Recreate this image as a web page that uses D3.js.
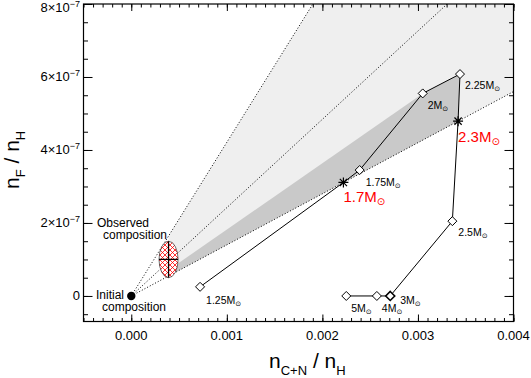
<!DOCTYPE html>
<html>
<head>
<meta charset="utf-8">
<script src="https://cdn.jsdelivr.net/npm/d3@7"></script>
<style>
  body { margin: 0; background: #fff; }
  text { font-family: "Liberation Sans", Arial, Helvetica, sans-serif; fill: #000; }
</style>
</head>
<body>
<svg id="chart" width="531" height="378"></svg>
<script>
// model track, in order of increasing mass
const masses = ['1.25', '1.7', '1.75', '2', '2.25', '2.3', '2.5', '3', '4', '5'];
const trackCN = [0.00072, 0.00222, 0.00239, 0.00305, 0.00344, 0.00342, 0.00336, 0.00271, 0.00257, 0.00225];
const trackF = [0.25e-7, 3.11e-7, 3.45e-7, 5.55e-7, 6.08e-7, 4.79e-7, 2.05e-7, 0, 0, 0];
const crossing = [false, true, false, false, false, true, false, false, false, false];

// observed and initial composition
const observed = { cn: 0.00039, f: 1.0e-7, errCN: 0.0001, errF: 0.5e-7 };
const initial = { cn: 0, f: 0 };

// F/(C+N) ratios of the three dotted lines
const ratioUpper = 4.21e-4;
const ratioMiddle = 2.42e-4;
const ratioLower = 1.40e-4;

const xTicks = [0, 0.001, 0.002, 0.003, 0.004];
const xTickLabels = ['0.000', '0.001', '0.002', '0.003', '0.004'];
const yTicks = [0, 2e-7, 4e-7, 6e-7, 8e-7];
const yTickMantissa = ['0', '2', '4', '6', '8'];

// label placement (pixel offsets from each point)
const labelLayout = [
  { dx: 6, dy: 17 }, { dx: 0, dy: 20 }, { dx: 6, dy: 16 }, { dx: 5, dy: 16 }, { dx: 5, dy: 15 },
  { dx: 0, dy: 21 }, { dx: 6, dy: 15 }, { dx: 10, dy: 8 }, { dx: 5, dy: 16 }, { dx: 5, dy: 16 },
];

const svg = d3.select('#chart');

const area = { left: 83.5, right: 513.5, top: 4, bottom: 321.5 };

const xScale = d3.scaleLinear().domain([-0.0005, 0.004]).range([area.left, area.right]);
const yScale = d3.scaleLinear().domain([-0.7e-7, 8e-7]).range([area.bottom, area.top]);

const [xMin, xMax] = xScale.domain();
const [yMin, yMax] = yScale.domain();

svg.append('defs').call((defs) => {
  defs.append('clipPath')
    .attr('id', 'plot-clip')
    .append('rect')
    .attr('x', area.left)
    .attr('y', area.top)
    .attr('width', area.right - area.left)
    .attr('height', area.bottom - area.top);

  const pat = defs.append('pattern')
    .attr('id', 'hatch')
    .attr('patternUnits', 'userSpaceOnUse')
    .attr('width', 5)
    .attr('height', 5);
  pat.append('rect').attr('width', 5).attr('height', 5).attr('fill', '#fff');
  pat.append('path')
    .attr('d', 'M0,0L5,5M5,0L0,5M-1,4L1,6M4,-1L6,1M-1,1L1,-1M4,6L6,4')
    .attr('stroke', '#f00')
    .attr('stroke-width', 0.8);
});

const plot = svg.append('g').attr('clip-path', 'url(#plot-clip)');

const pt = (cn, f) => [xScale(cn), yScale(f)];

// shaded ranges between the dotted lines, starting at the observed point
const x0 = observed.cn;
const lightPoly = [
  pt(x0, ratioUpper * x0),
  pt(yMax / ratioUpper, yMax),
  pt(xMax, yMax),
  pt(xMax, ratioLower * xMax),
  pt(x0, ratioLower * x0),
];

const i2 = masses.indexOf('2');
const i225 = masses.indexOf('2.25');
const i23 = masses.indexOf('2.3');
const ratioDark = trackF[i2] / trackCN[i2];
const darkPoly = [
  pt(x0, ratioDark * x0),
  pt(trackCN[i2], trackF[i2]),
  pt(trackCN[i225], trackF[i225]),
  pt(trackCN[i23], trackF[i23]),
  pt(x0, ratioLower * x0),
];

plot.append('polygon')
  .attr('points', lightPoly.join(' '))
  .attr('fill', '#efefef');

plot.append('polygon')
  .attr('points', darkPoly.join(' '))
  .attr('fill', '#c9c9c9');

// dotted lines from the initial composition
for (const r of [ratioUpper, ratioMiddle, ratioLower]) {
  const xe = Math.min(xMax, yMax / r);
  plot.append('line')
    .attr('x1', xScale(0))
    .attr('y1', yScale(0))
    .attr('x2', xScale(xe))
    .attr('y2', yScale(r * xe))
    .attr('stroke', '#000')
    .attr('stroke-width', 1)
    .attr('stroke-dasharray', '1,2');
}

// axes (ticks point inward)
const xMinor = d3.range(-5, 41).map((i) => i * 1e-4);
const yMinor = d3.range(-1, 17).map((i) => i * 0.5e-7);

function addAxis(axis, transform) {
  const g = svg.append('g').attr('transform', transform).call(axis);
  g.select('.domain').remove();
  g.selectAll('.tick line').attr('stroke', '#000').attr('stroke-width', 1);
  return g;
}

addAxis(d3.axisBottom(xScale).tickValues(xMinor).tickSize(-3.5).tickFormat(''), `translate(0,${area.bottom})`);
addAxis(d3.axisTop(xScale).tickValues(xMinor).tickSize(-3.5).tickFormat(''), `translate(0,${area.top})`);
addAxis(d3.axisBottom(xScale).tickValues(xTicks).tickSize(-7).tickFormat(''), `translate(0,${area.bottom})`);
addAxis(d3.axisTop(xScale).tickValues(xTicks).tickSize(-7).tickFormat(''), `translate(0,${area.top})`);

addAxis(d3.axisLeft(yScale).tickValues(yMinor).tickSize(-4.5).tickFormat(''), `translate(${area.left},0)`);
addAxis(d3.axisRight(yScale).tickValues(yMinor).tickSize(-4.5).tickFormat(''), `translate(${area.right},0)`);
addAxis(d3.axisLeft(yScale).tickValues(yTicks).tickSize(-9).tickFormat(''), `translate(${area.left},0)`);
addAxis(d3.axisRight(yScale).tickValues(yTicks).tickSize(-9).tickFormat(''), `translate(${area.right},0)`);

svg.append('rect')
  .attr('x', area.left)
  .attr('y', area.top)
  .attr('width', area.right - area.left)
  .attr('height', area.bottom - area.top)
  .attr('fill', 'none')
  .attr('stroke', '#000')
  .attr('stroke-width', 1.2);

// tick labels
svg.append('g')
  .selectAll('text')
  .data(xTicks)
  .join('text')
  .attr('x', (d) => xScale(d))
  .attr('y', 340)
  .attr('text-anchor', 'middle')
  .attr('font-size', 13)
  .text((d, i) => xTickLabels[i]);

const yLabels = svg.append('g')
  .selectAll('text')
  .data(yTicks)
  .join('text')
  .attr('x', 80)
  .attr('y', (d) => Math.max(yScale(d) + 4.5, 12))
  .attr('text-anchor', 'end')
  .attr('font-size', 13);

yLabels.each(function (d, i) {
  const t = d3.select(this);
  if (d === 0) {
    t.text(yTickMantissa[i]);
    return;
  }
  t.append('tspan').text(yTickMantissa[i] + '×10');
  t.append('tspan').attr('dy', -5).attr('font-size', 9).text('−7');
});

// axis titles
const xTitle = svg.append('text')
  .attr('x', 269)
  .attr('y', 368)
  .attr('font-size', 21);
xTitle.append('tspan').text('n');
xTitle.append('tspan').attr('dy', 7).attr('font-size', 13).text('C+N');
xTitle.append('tspan').attr('dy', -7).text(' / n');
xTitle.append('tspan').attr('dy', 7).attr('font-size', 13).text('H');

const yTitle = svg.append('text')
  .attr('transform', 'translate(19,189) rotate(-90)')
  .attr('font-size', 21);
yTitle.append('tspan').text('n');
yTitle.append('tspan').attr('dy', 6).attr('font-size', 13).text('F');
yTitle.append('tspan').attr('dy', -6).text(' / n');
yTitle.append('tspan').attr('dy', 6).attr('font-size', 13).text('H');

// model track
const track = masses.map((m, i) => ({ mass: m, cn: trackCN[i], f: trackF[i], cross: crossing[i], i }));

svg.append('path')
  .datum(track)
  .attr('fill', 'none')
  .attr('stroke', '#000')
  .attr('stroke-width', 1)
  .attr('d', d3.line().x((d) => xScale(d.cn)).y((d) => yScale(d.f)));

svg.append('g')
  .selectAll('path')
  .data(track.filter((d) => !d.cross))
  .join('path')
  .attr('transform', (d) => `translate(${xScale(d.cn)},${yScale(d.f)})`)
  .attr('d', 'M0,-4.5L4.5,0L0,4.5L-4.5,0Z')
  .attr('fill', '#fff')
  .attr('stroke', '#000')
  .attr('stroke-width', (d) => (d.mass === '3' ? 1.6 : 1));

svg.append('g')
  .selectAll('path')
  .data(track.filter((d) => d.cross))
  .join('path')
  .attr('transform', (d) => `translate(${xScale(d.cn)},${yScale(d.f)})`)
  .attr('d', 'M-5,0H5M0,-5V5M-3.6,-3.6L3.6,3.6M-3.6,3.6L3.6,-3.6')
  .attr('stroke', '#000')
  .attr('stroke-width', 1.2);

// mass labels
const massLabels = svg.append('g')
  .selectAll('text')
  .data(track)
  .join('text')
  .attr('x', (d) => xScale(d.cn) + labelLayout[d.i].dx)
  .attr('y', (d) => yScale(d.f) + labelLayout[d.i].dy)
  .attr('font-size', (d) => (d.cross ? 15 : 10.5))
  .style('fill', (d) => (d.cross ? '#f00' : '#000'));

massLabels.each(function (d) {
  const t = d3.select(this);
  t.append('tspan').text(d.mass + 'M');
  t.append('tspan')
    .attr('dy', d.cross ? 3 : 2)
    .attr('font-size', d.cross ? 10 : 7)
    .style('font-family', 'DejaVu Sans')
    .text('⊙');
});

// observed composition
svg.append('ellipse')
  .attr('cx', xScale(observed.cn))
  .attr('cy', yScale(observed.f))
  .attr('rx', xScale(observed.cn + observed.errCN) - xScale(observed.cn))
  .attr('ry', yScale(observed.f) - yScale(observed.f + observed.errF))
  .attr('fill', 'url(#hatch)')
  .attr('stroke', '#333')
  .attr('stroke-width', 0.7);

svg.append('path')
  .attr('d', [
    'M', xScale(observed.cn - observed.errCN), yScale(observed.f),
    'H', xScale(observed.cn + observed.errCN),
    'M', xScale(observed.cn), yScale(observed.f - observed.errF),
    'V', yScale(observed.f + observed.errF),
  ].join(' '))
  .attr('stroke', '#000')
  .attr('stroke-width', 1.3);

svg.append('circle')
  .attr('cx', xScale(initial.cn))
  .attr('cy', yScale(initial.f))
  .attr('r', 4.2)
  .attr('fill', '#000');

const noteFont = 12;
svg.append('text').attr('x', 97).attr('y', 227).attr('font-size', noteFont).text('Observed');
svg.append('text').attr('x', 103).attr('y', 239).attr('font-size', noteFont).text('composition');
svg.append('text').attr('x', 96).attr('y', 299).attr('font-size', noteFont).text('Initial');
svg.append('text').attr('x', 102).attr('y', 311).attr('font-size', noteFont).text('composition');
</script>
</body>
</html>
